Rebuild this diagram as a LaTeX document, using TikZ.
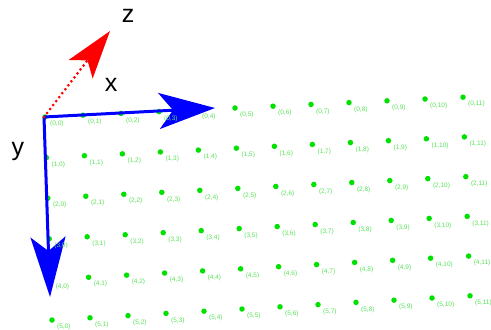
\documentclass[tikz,border=0pt]{standalone}
\usepackage{fontspec}
\setmainfont{Liberation Sans}
\usetikzlibrary{arrows.meta}
\definecolor{dotgreen}{RGB}{0,225,0}
\definecolor{lblgreen}{RGB}{90,225,90}
\tikzset{
  gridpt/.style={circle,fill=dotgreen,inner sep=0pt,minimum size=5.5pt},
  gridlbl/.style={text=lblgreen,font=\fontsize{6.5}{7}\selectfont,inner sep=0pt,anchor=west},
  axislbl/.style={font=\fontsize{25}{25}\selectfont,inner sep=0pt}
}
\begin{document}
\begin{tikzpicture}[x=1pt,y=-1pt]
\useasboundingbox (0,0) rectangle (491,330);
% grid points
\foreach \i in {0,...,5} {
  \foreach \j in {0,...,11} {
    \node[gridpt] (p-\i-\j) at ({45+38*\j+1.4*\i},{117+40.6*\i-(1.8+0.08*\i)*\j}) {};
  }
}
% axes
\coordinate (O) at (44,117);
\coordinate (X) at (215,108);
\coordinate (Y) at (50,297);
\coordinate (Z) at (110,31);
\draw[blue,line width=3pt,-{Stealth[length=56pt,width=36pt,inset=14pt]}] (O) -- (X);
\draw[blue,line width=3pt,-{Stealth[length=60pt,width=35pt,inset=14pt]}] (O) -- (Y);
\draw[red,line width=3pt,line cap=round,dash pattern=on 0pt off 5pt,
  -{Stealth[length=48pt,width=30pt,inset=11pt]}] (O) -- (Z);
\node[axislbl] (xl) at (111,85) {x};
\node[axislbl] (yl) at (18,151) {y};
\node[axislbl] (zl) at (128,16) {z};
% labels
\foreach \i in {0,...,5} {
  \foreach \j in {0,...,11} {
    \node[gridlbl] (l-\i-\j) at ([shift={(5,7)}]p-\i-\j) {(\i,\j)};
  }
}
\end{tikzpicture}
\end{document}
